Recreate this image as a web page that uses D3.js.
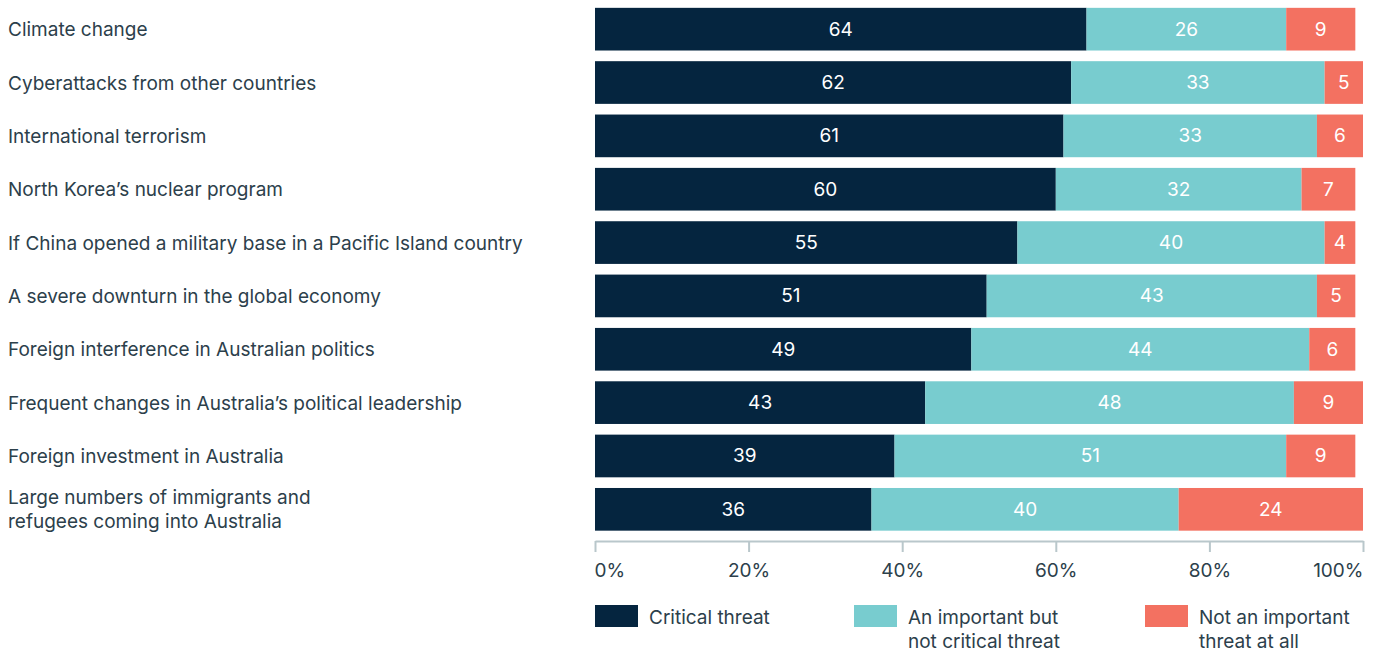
<!DOCTYPE html>
<html>
<head>
<meta charset="utf-8">
<script src="https://cdn.jsdelivr.net/npm/d3@7"></script>
<style>
  html, body { margin: 0; padding: 0; background: #fff; }
  svg { display: block; }
  text { font-family: Inter, "Noto Sans", sans-serif; }
</style>
</head>
<body>
<svg id="chart" width="1378" height="651"></svg>
<script>
const categories = [
  ["Climate change"],
  ["Cyberattacks from other countries"],
  ["International terrorism"],
  ["North Korea\u2019s nuclear program"],
  ["If China opened a military base in a Pacific Island country"],
  ["A severe downturn in the global economy"],
  ["Foreign interference in Australian politics"],
  ["Frequent changes in Australia\u2019s political leadership"],
  ["Foreign investment in Australia"],
  ["Large numbers of immigrants and", "refugees coming into Australia"]
];
const critical = [64, 62, 61, 60, 55, 51, 49, 43, 39, 36];
const important = [26, 33, 33, 32, 40, 43, 44, 48, 51, 40];
const notImportant = [9, 5, 6, 7, 4, 5, 6, 9, 9, 24];
const seriesNames = [["Critical threat"], ["An important but", "not critical threat"], ["Not an important", "threat at all"]];
const seriesColors = ["#05253f", "#78cccf", "#f37161"];
const tickValues = [0, 20, 40, 60, 80, 100];

const svg = d3.select("#chart");
const textColor = "#2c404b";

const x = d3.scaleLinear().domain([0, 100]).range([595, 1363]);
const y = d3.scaleBand().domain(d3.range(categories.length)).range([2.5, 536]).paddingInner(0.2).paddingOuter(0.1);

const series = [critical, important, notImportant];
const rows = categories.map((c, i) => {
  let acc = 0;
  return series.map((s, k) => {
    const seg = { row: i, k, v: s[i], x0: acc, x1: acc + s[i] };
    acc += s[i];
    return seg;
  });
});

// category labels
categories.forEach((lines, i) => {
  const cy = y(i) + y.bandwidth() / 2;
  const t = svg.append("text")
    .attr("x", 8)
    .attr("fill", textColor)
    .attr("font-size", 19)
    .attr("dominant-baseline", "central");
  const n = lines.length;
  lines.forEach((ln, j) => {
    t.append("tspan").attr("x", 8).attr("y", cy + (j - (n - 1) / 2) * 24).text(ln);
  });
});

// bars
const g = svg.append("g");
rows.forEach(segs => {
  segs.forEach(s => {
    g.append("rect")
      .attr("x", x(s.x0))
      .attr("y", y(s.row))
      .attr("width", x(s.x1) - x(s.x0))
      .attr("height", y.bandwidth())
      .attr("fill", seriesColors[s.k]);
    g.append("text")
      .attr("x", (x(s.x0) + x(s.x1)) / 2)
      .attr("y", y(s.row) + y.bandwidth() / 2)
      .attr("text-anchor", "middle")
      .attr("dominant-baseline", "central")
      .attr("fill", "#ffffff")
      .attr("font-size", 19)
      .text(s.v);
  });
});

// axis
const axisY = 541;
const axis = d3.axisBottom(x).tickValues(tickValues).tickFormat(d => d + "%").tickSize(11).tickPadding(12).tickSizeOuter(0);
const ag = svg.append("g").attr("transform", `translate(0,${axisY})`).call(axis);
ag.select(".domain").attr("stroke", "#b9c7cb").attr("stroke-width", 2);
ag.selectAll(".tick line").attr("stroke", "#b9c7cb").attr("stroke-width", 2);
ag.selectAll(".tick text")
  .attr("fill", textColor)
  .attr("font-size", 19)
  .attr("font-family", "Inter, 'Noto Sans', sans-serif")
  .attr("text-anchor", (d, i) => i === 0 ? "start" : (i === tickValues.length - 1 ? "end" : "middle"))
  .attr("dx", (d, i) => i === 0 ? -1 : 0);

// legend
const legendX = [595, 854, 1145];
seriesNames.forEach((lines, k) => {
  svg.append("rect")
    .attr("x", legendX[k]).attr("y", 605)
    .attr("width", 43).attr("height", 22)
    .attr("fill", seriesColors[k]);
  const t = svg.append("text")
    .attr("fill", textColor)
    .attr("font-size", 19)
    .attr("dominant-baseline", "central");
  lines.forEach((ln, j) => {
    t.append("tspan").attr("x", legendX[k] + 54).attr("y", 617 + j * 24).text(ln);
  });
});
</script>
</body>
</html>
